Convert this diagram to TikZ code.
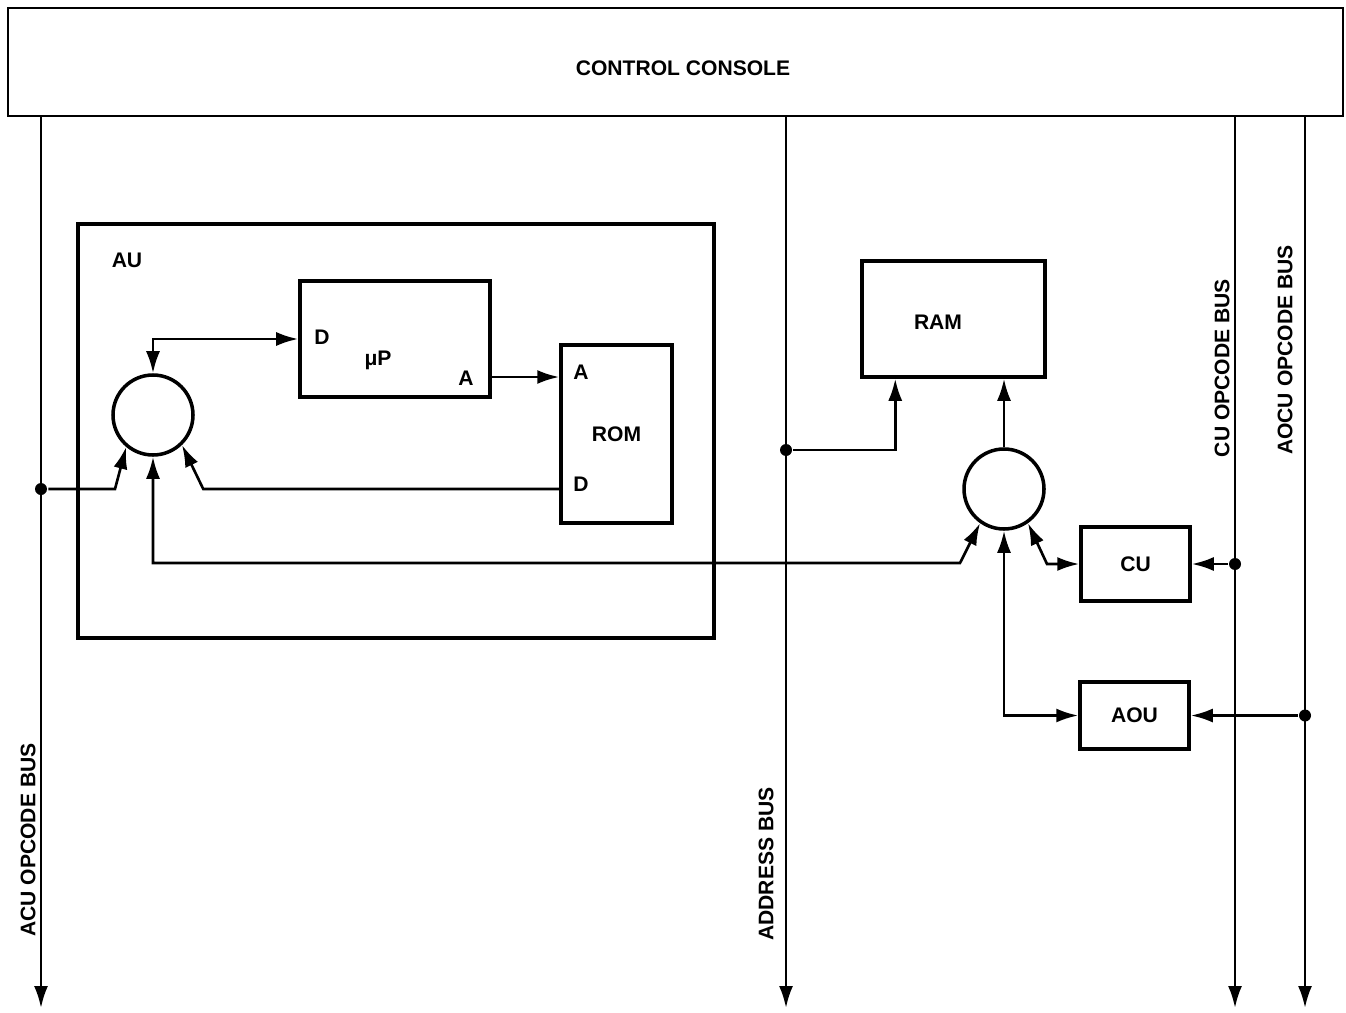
\documentclass[tikz,border=0pt]{standalone}
\usepackage{fontspec}
\setmainfont{Liberation Sans}
\usetikzlibrary{arrows.meta,positioning}

\begin{document}
\begin{tikzpicture}[x=0.2mm, y=-0.2mm, font=\bfseries\fontsize{12}{14}\selectfont,
    line width=1.5pt, >={Latex[length=4.4mm,width=2.8mm]},
    block/.style={rectangle, draw, line width=2pt, inner sep=0pt},
    mix/.style={circle, draw, line width=2pt, minimum size=16mm, inner sep=0pt},
    dot/.style={circle, fill, inner sep=0pt, minimum size=2.4mm},
    buslabel/.style={rotate=90, inner sep=0pt}]
    \useasboundingbox (0,0) rectangle (1346,1012);

    % console and buses
    \node (console) [block, line width=1.3pt, minimum width=267mm, minimum height=21.6mm] at (675.5,62) {};
    \node (ctitle) at (683,68) {CONTROL CONSOLE};
    \coordinate (acuend) at (41,1008);
    \coordinate (addrend) at (786,1008);
    \coordinate (cuend) at (1235,1008);
    \coordinate (aocuend) at (1305,1008);
    \draw[->] (console.south -| acuend) -- (acuend);
    \draw[->] (console.south -| addrend) -- (addrend);
    \draw[->] (console.south -| cuend) -- (cuend);
    \draw[->] (console.south -| aocuend) -- (aocuend);
    \node[buslabel] at (28,840) {ACU OPCODE BUS};
    \node[buslabel] at (766,864) {ADDRESS BUS};
    \node[buslabel] at (1222,368) {CU OPCODE BUS};
    \node[buslabel] at (1285,350) {AOCU OPCODE BUS};

    % AU
    \node (au) [block, line width=2.8pt, minimum width=127.2mm, minimum height=82.8mm] at (396,431) {};
    \node at (127,260) {AU};
    \node (up) [block, minimum width=38mm, minimum height=23.2mm] at (395,339) {};
    \node at (378,360) {μP};
    \node at (322,337) {D};
    \node at (466,378) {A};
    \node (rom) [block, minimum width=22.2mm, minimum height=35.6mm] at (616.5,434) {ROM};
    \node at (581,372) {A};
    \node at (581,484) {D};
    \node (mixa) [mix] at (153,415) {};

    \coordinate (upout) at (490,377);
    \draw[<->] (mixa.north) |- (up.west);
    \draw[->] (upout) -- (rom.west |- upout);
    \node (jacu) [dot] at (41,489) {};
    \draw[->] (jacu) -- ++(74,0) -- (mixa.230);
    \draw[->] (rom.west |- jacu) -- ++(-356,0) -- (mixa.314);

    % RAM side
    \node (ram) [block, minimum width=36.6mm, minimum height=23.2mm] at (953.5,319) {};
    \node at (938,322) {RAM};
    \node (mixb) [mix] at (1004,489) {};
    \node (cu) [block, minimum width=21.8mm, minimum height=14.8mm] at (1135.5,564) {CU};
    \node (aou) [block, minimum width=21.8mm, minimum height=13.4mm] at (1134.5,715.5) {AOU};

    \node (jaddr) [dot] at (786,450) {};
    \draw[->] (jaddr) -| ([xshift=7mm]ram.south west);
    \draw[->] (mixb.north) -- (ram.south -| mixb.north);
    \coordinate (bendb) at (960,563);
    \draw[<->] (mixa.south) |- (bendb) -- (mixb.235);
    \coordinate (bendc) at (1047,564);
    \draw[<->] (mixb.305) -- (bendc) -- (cu.west);
    \draw[<->] (mixb.south) |- (aou.west);
    \node (jcu) [dot] at (1235,564) {};
    \draw[->] (jcu) -- (cu.east);
    \node (jaocu) [dot] at (1305,715.5) {};
    \draw[->] (jaocu) -- (aou.east);
\end{tikzpicture}
\end{document}
